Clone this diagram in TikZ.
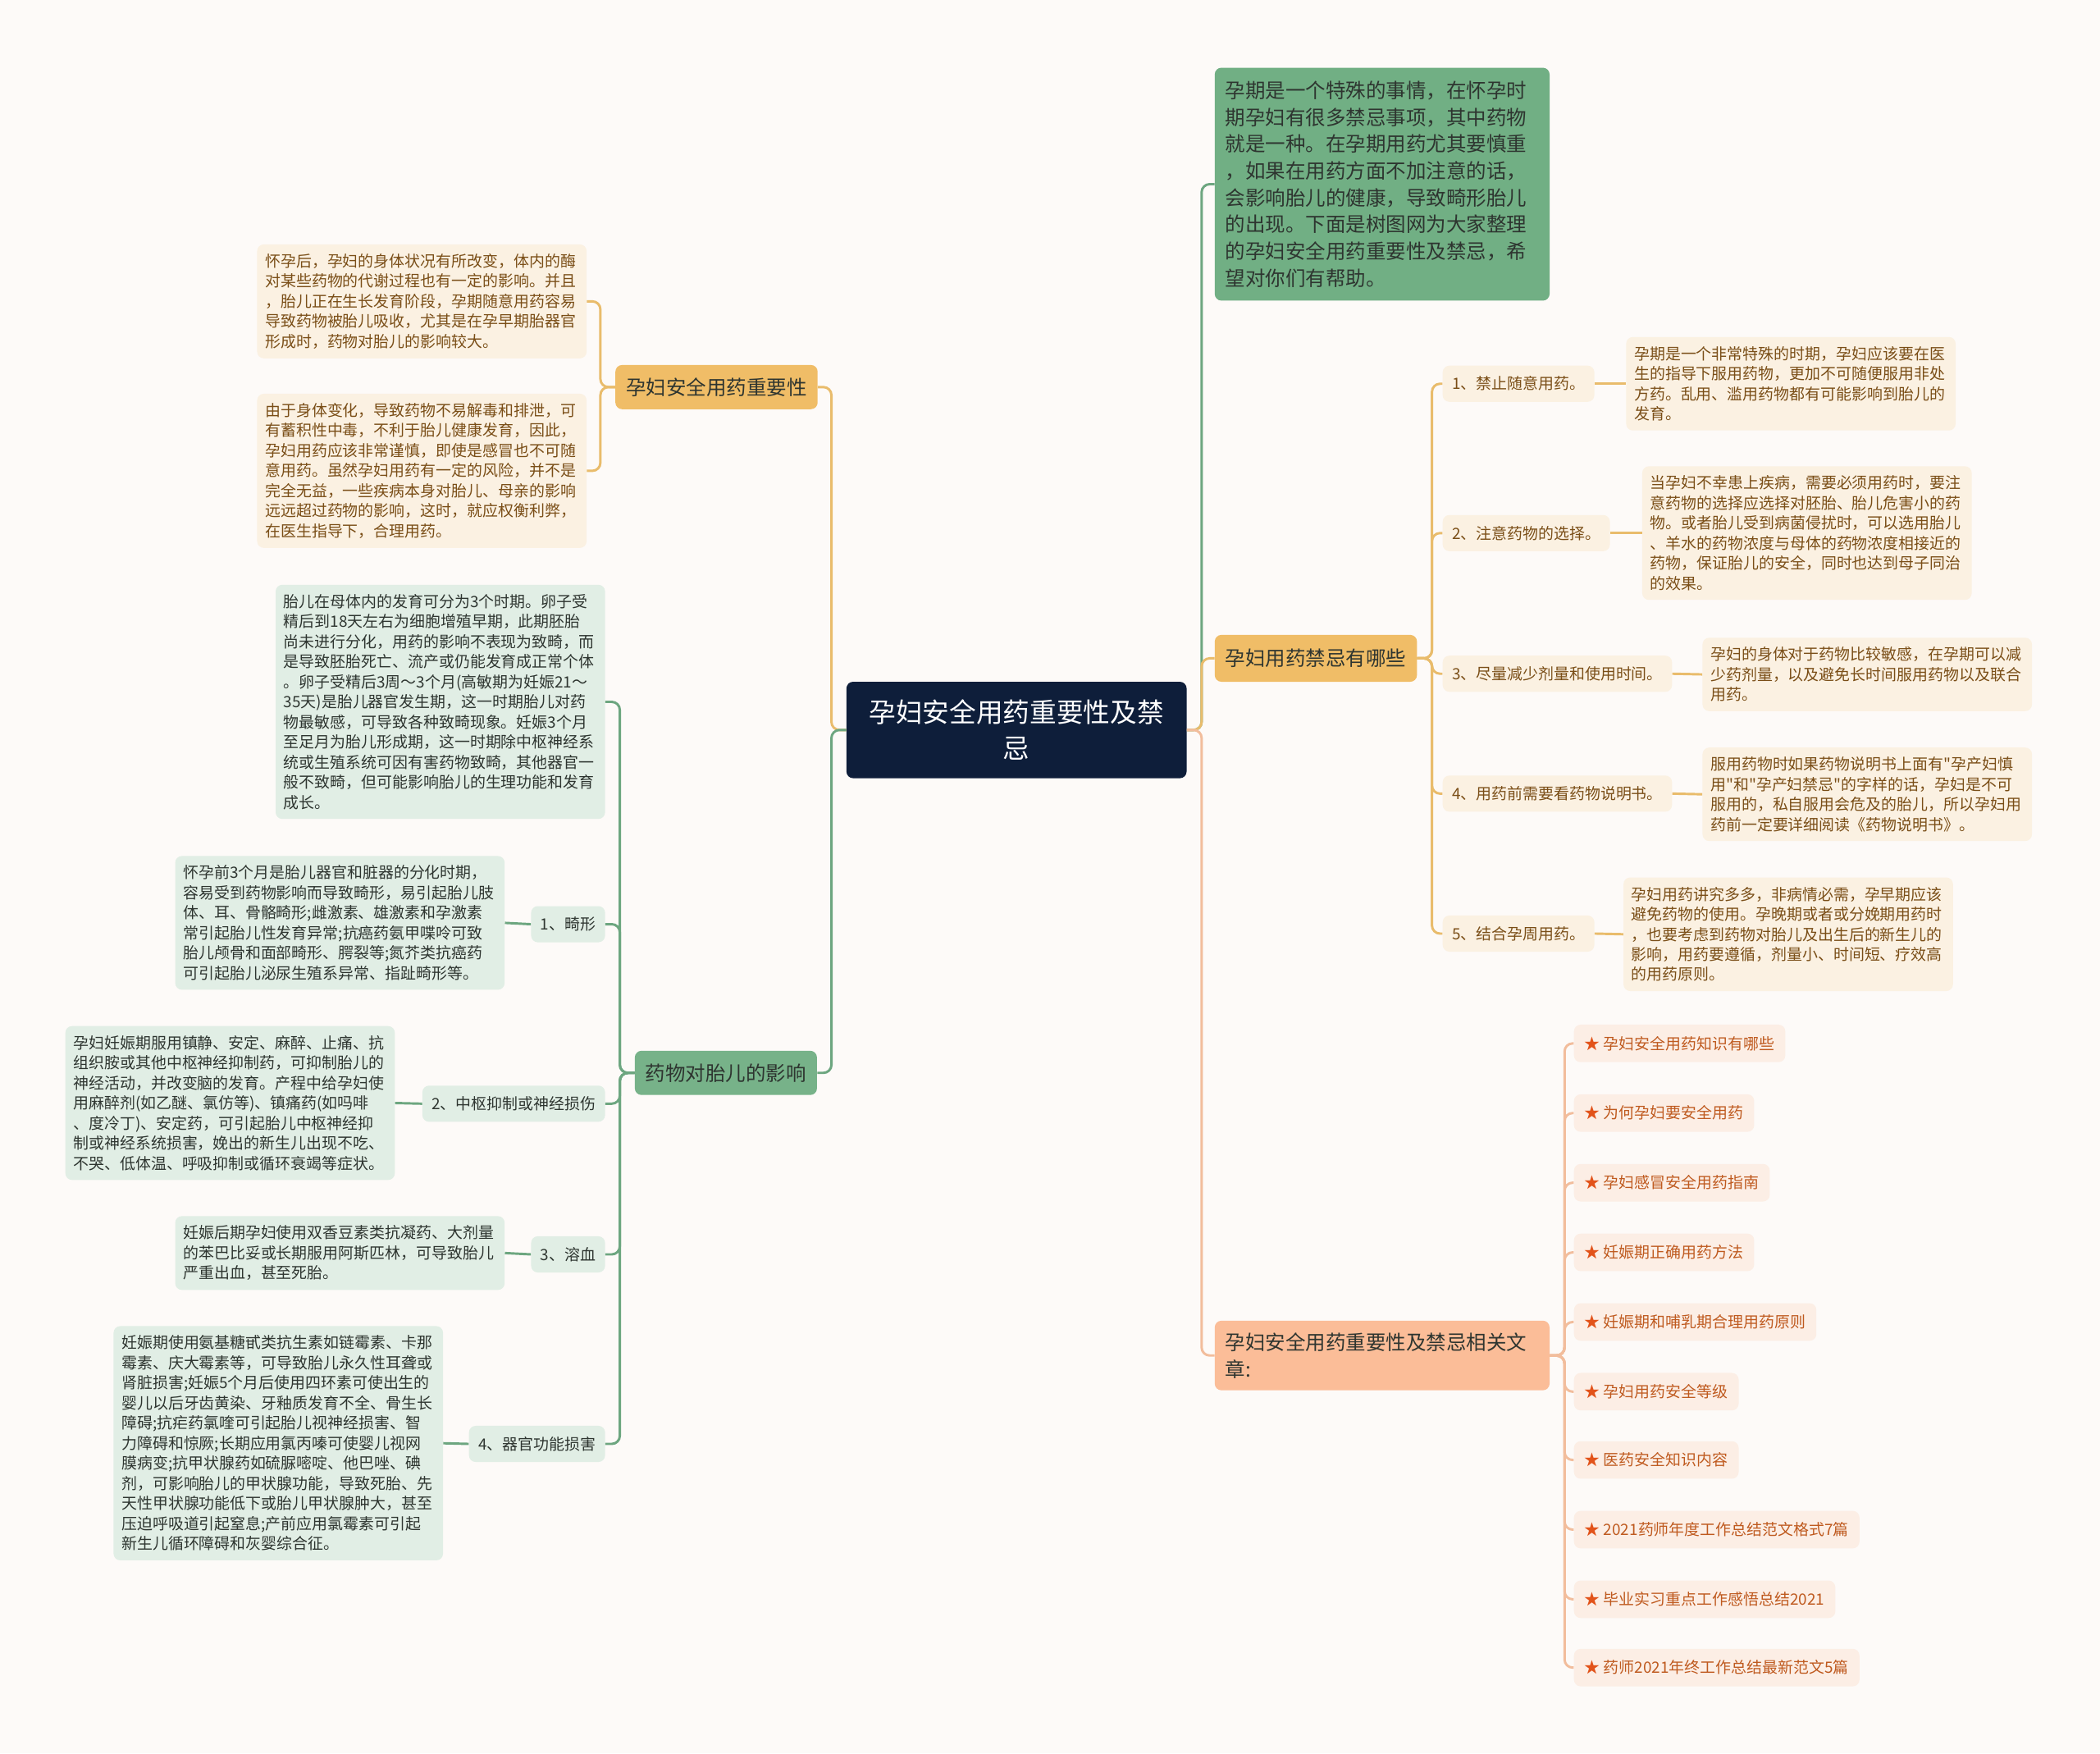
\documentclass[tikz,border=0pt]{standalone}
\usepackage{fontspec}
\setmainfont{Noto Sans CJK SC}[Ligatures=TeXOff]
\usepackage{xcolor}

\definecolor{bgcol}{HTML}{FDFAF8}
\definecolor{rootcol}{HTML}{0E1E3A}
\definecolor{orangecol}{HTML}{F0BD67}
\definecolor{orangeline}{HTML}{E9BC6C}
\definecolor{creamcol}{HTML}{FBF1E2}
\definecolor{browntext}{HTML}{7A4E17}
\definecolor{greencol}{HTML}{77B289}
\definecolor{introcol}{HTML}{71AF84}
\definecolor{greenline}{HTML}{6DA680}
\definecolor{mintcol}{HTML}{E1EEE5}
\definecolor{darktext}{HTML}{2E3530}
\definecolor{salmoncol}{HTML}{FBBD98}
\definecolor{salmonline}{HTML}{F2BD9C}
\definecolor{peachcol}{HTML}{FCEEE5}
\definecolor{linktext}{HTML}{BF5A1F}
\definecolor{starcol}{HTML}{E2531A}

\begin{document}
\begin{tikzpicture}[x=1pt, y=-1pt,
    rootbox/.style={fill=rootcol, text=white, rounded corners=5pt, font=\fontsize{20}{27}\selectfont,
        text width=222pt, align=center, inner xsep=16pt, inner ysep=12pt, minimum height=72pt},
    branchbox/.style={rounded corners=5pt, font=\fontsize{15}{20}\selectfont, inner xsep=8pt, minimum height=33pt},
    notebox/.style={rounded corners=5pt, font=\fontsize{11.6}{15}\selectfont, text width=234pt,
        align=left, inner xsep=6pt, inner ysep=7pt},
    subbox/.style={rounded corners=5pt, font=\fontsize{11.6}{15}\selectfont, inner xsep=7pt, minimum height=27pt},
    linkbox/.style={fill=peachcol, text=linktext, rounded corners=5pt, font=\fontsize{11.6}{15}\selectfont,
        inner xsep=8pt, minimum height=28pt, anchor=west},
    link/.style={line width=1.8pt, rounded corners=6pt}]

    % Page and background
    \useasboundingbox (0,0) rectangle (1568,1309);
    \fill[bgcol] (0,0) rectangle (1568,1309);

    % Central topic
    \node[rootbox] (root) at (759,545) {孕妇安全用药重要性及禁\\忌};

    % Left side: importance
    \node[branchbox, fill=orangecol, text=darktext] (imp) at (535,289) {孕妇安全用药重要性};
    \node[notebox, fill=creamcol, text=browntext] (impA) at (315,225) {怀孕后，孕妇的身体状况有所改变，体内的酶\\对某些药物的代谢过程也有一定的影响。并且\\，胎儿正在生长发育阶段，孕期随意用药容易\\导致药物被胎儿吸收，尤其是在孕早期胎器官\\形成时，药物对胎儿的影响较大。};
    \node[notebox, fill=creamcol, text=browntext] (impB) at (315,351.5) {由于身体变化，导致药物不易解毒和排泄，可\\有蓄积性中毒，不利于胎儿健康发育，因此，\\孕妇用药应该非常谨慎，即使是感冒也不可随\\意用药。虽然孕妇用药有一定的风险，并不是\\完全无益，一些疾病本身对胎儿、母亲的影响\\远远超过药物的影响，这时，就应权衡利弊，\\在医生指导下，合理用药。};

    % Left side: effects on the fetus
    \node[branchbox, fill=greencol, text=darktext] (eff) at (542,801) {药物对胎儿的影响};
    \node[notebox, fill=mintcol, text=darktext, anchor=east] (effdev) at (452,524) {胎儿在母体内的发育可分为3个时期。卵子受\\精后到18天左右为细胞增殖早期，此期胚胎\\尚未进行分化，用药的影响不表现为致畸，而\\是导致胚胎死亡、流产或仍能发育成正常个体\\。卵子受精后3周～3个月(高敏期为妊娠21～\\35天)是胎儿器官发生期，这一时期胎儿对药\\物最敏感，可导致各种致畸现象。妊娠3个月\\至足月为胎儿形成期，这一时期除中枢神经系\\统或生殖系统可因有害药物致畸，其他器官一\\般不致畸，但可能影响胎儿的生理功能和发育\\成长。};

    \node[subbox, fill=mintcol, text=darktext, anchor=east] (eff1) at (452,690) {1、畸形};
    \node[notebox, fill=mintcol, text=darktext, anchor=east] (eff1d) at (377,689) {怀孕前3个月是胎儿器官和脏器的分化时期，\\容易受到药物影响而导致畸形，易引起胎儿肢\\体、耳、骨骼畸形;雌激素、雄激素和孕激素\\常引起胎儿性发育异常;抗癌药氨甲喋呤可致\\胎儿颅骨和面部畸形、腭裂等;氮芥类抗癌药\\可引起胎儿泌尿生殖系异常、指趾畸形等。};

    \node[subbox, fill=mintcol, text=darktext, anchor=east] (eff2) at (452,824) {2、中枢抑制或神经损伤};
    \node[notebox, fill=mintcol, text=darktext, anchor=east] (eff2d) at (295,823.5) {孕妇妊娠期服用镇静、安定、麻醉、止痛、抗\\组织胺或其他中枢神经抑制药，可抑制胎儿的\\神经活动，并改变脑的发育。产程中给孕妇使\\用麻醉剂(如乙醚、氯仿等)、镇痛药(如吗啡\\、度冷丁)、安定药，可引起胎儿中枢神经抑\\制或神经系统损害，娩出的新生儿出现不吃、\\不哭、低体温、呼吸抑制或循环衰竭等症状。};

    \node[subbox, fill=mintcol, text=darktext, anchor=east] (eff3) at (452,936.5) {3、溶血};
    \node[notebox, fill=mintcol, text=darktext, anchor=east] (eff3d) at (377,935.5) {妊娠后期孕妇使用双香豆素类抗凝药、大剂量\\的苯巴比妥或长期服用阿斯匹林，可导致胎儿\\严重出血，甚至死胎。};

    \node[subbox, fill=mintcol, text=darktext, anchor=east] (eff4) at (452,1078) {4、器官功能损害};
    \node[notebox, fill=mintcol, text=darktext, anchor=east] (eff4d) at (331,1077.5) {妊娠期使用氨基糖甙类抗生素如链霉素、卡那\\霉素、庆大霉素等，可导致胎儿永久性耳聋或\\肾脏损害;妊娠5个月后使用四环素可使出生的\\婴儿以后牙齿黄染、牙釉质发育不全、骨生长\\障碍;抗疟药氯喹可引起胎儿视神经损害、智\\力障碍和惊厥;长期应用氯丙嗪可使婴儿视网\\膜病变;抗甲状腺药如硫脲嘧啶、他巴唑、碘\\剂，可影响胎儿的甲状腺功能，导致死胎、先\\天性甲状腺功能低下或胎儿甲状腺肿大，甚至\\压迫呼吸道引起窒息;产前应用氯霉素可引起\\新生儿循环障碍和灰婴综合征。};

    % Right side: introduction
    \node[branchbox, fill=introcol, text=darktext, text width=234pt, align=left, inner ysep=10pt] (intro) at (1032,137.5) {孕期是一个特殊的事情，在怀孕时\\期孕妇有很多禁忌事项，其中药物\\就是一种。在孕期用药尤其要慎重\\，如果在用药方面不加注意的话，\\会影响胎儿的健康，导致畸形胎儿\\的出现。下面是树图网为大家整理\\的孕妇安全用药重要性及禁忌，希\\望对你们有帮助。};

    % Right side: taboos
    \node[branchbox, fill=orangecol, text=darktext, minimum height=35pt] (ban) at (982.5,491.5) {孕妇用药禁忌有哪些};

    \node[subbox, fill=creamcol, text=browntext, anchor=west] (ban1) at (1077,286.5) {1、禁止随意用药。};
    \node[notebox, fill=creamcol, text=browntext, anchor=west] (ban1d) at (1214,286.5) {孕期是一个非常特殊的时期，孕妇应该要在医\\生的指导下服用药物，更加不可随便服用非处\\方药。乱用、滥用药物都有可能影响到胎儿的\\发育。};

    \node[subbox, fill=creamcol, text=browntext, anchor=west] (ban2) at (1077,398) {2、注意药物的选择。};
    \node[notebox, fill=creamcol, text=browntext, anchor=west] (ban2d) at (1226,398) {当孕妇不幸患上疾病，需要必须用药时，要注\\意药物的选择应选择对胚胎、胎儿危害小的药\\物。或者胎儿受到病菌侵扰时，可以选用胎儿\\、羊水的药物浓度与母体的药物浓度相接近的\\药物，保证胎儿的安全，同时也达到母子同治\\的效果。};

    \node[subbox, fill=creamcol, text=browntext, anchor=west] (ban3) at (1077,503) {3、尽量减少剂量和使用时间。};
    \node[notebox, fill=creamcol, text=browntext, anchor=west] (ban3d) at (1271,503.5) {孕妇的身体对于药物比较敏感，在孕期可以减\\少药剂量，以及避免长时间服用药物以及联合\\用药。};

    \node[subbox, fill=creamcol, text=browntext, anchor=west] (ban4) at (1077,592.5) {4、用药前需要看药物说明书。};
    \node[notebox, fill=creamcol, text=browntext, anchor=west] (ban4d) at (1271,593) {服用药物时如果药物说明书上面有"孕产妇慎\\用"和"孕产妇禁忌"的字样的话，孕妇是不可\\服用的，私自服用会危及的胎儿，所以孕妇用\\药前一定要详细阅读《药物说明书》。};

    \node[subbox, fill=creamcol, text=browntext, anchor=west] (ban5) at (1077,697) {5、结合孕周用药。};
    \node[notebox, fill=creamcol, text=browntext, anchor=west] (ban5d) at (1212,697.5) {孕妇用药讲究多多，非病情必需，孕早期应该\\避免药物的使用。孕晚期或者或分娩期用药时\\，也要考虑到药物对胎儿及出生后的新生儿的\\影响，用药要遵循，剂量小、时间短、疗效高\\的用药原则。};

    % Right side: related articles
    \node[branchbox, fill=salmoncol, text=darktext, text width=234pt, align=left, inner ysep=9pt] (rel) at (1032,1012) {孕妇安全用药重要性及禁忌相关文\\章:};

    \node[linkbox] (rel1) at (1175,779) {{\color{starcol}★} 孕妇安全用药知识有哪些};
    \node[linkbox] (rel2) at (1175,831) {{\color{starcol}★} 为何孕妇要安全用药};
    \node[linkbox] (rel3) at (1175,883) {{\color{starcol}★} 孕妇感冒安全用药指南};
    \node[linkbox] (rel4) at (1175,935) {{\color{starcol}★} 妊娠期正确用药方法};
    \node[linkbox] (rel5) at (1175,987) {{\color{starcol}★} 妊娠期和哺乳期合理用药原则};
    \node[linkbox] (rel6) at (1175,1039) {{\color{starcol}★} 孕妇用药安全等级};
    \node[linkbox] (rel7) at (1175,1090) {{\color{starcol}★} 医药安全知识内容};
    \node[linkbox] (rel8) at (1175,1142) {{\color{starcol}★} 2021药师年度工作总结范文格式7篇};
    \node[linkbox] (rel9) at (1175,1194) {{\color{starcol}★} 毕业实习重点工作感悟总结2021};
    \node[linkbox] (rel10) at (1175,1245) {{\color{starcol}★} 药师2021年终工作总结最新范文5篇};

    % Connectors from the centre
    \draw[link, orangeline] (root.west) -- ++(-11,0) |- (imp.east);
    \draw[link, greenline] (root.west) -- ++(-11,0) |- (eff.east);
    \draw[link, greenline] (root.east) -- ++(11,0) |- (intro.west);
    \draw[link, orangeline] (root.east) -- ++(11,0) |- (ban.west);
    \draw[link, salmonline] (root.east) -- ++(11,0) |- (rel.west);

    % Importance branch
    \draw[link, orangeline] (imp.west) -- ++(-11,0) |- (impA.east);
    \draw[link, orangeline] (imp.west) -- ++(-11,0) |- (impB.east);

    % Effects branch
    \draw[link, greenline] (eff.west) -- ++(-11,0) |- (effdev.east);
    \draw[link, greenline] (eff.west) -- ++(-11,0) |- (eff1.east);
    \draw[link, greenline] (eff.west) -- ++(-11,0) |- (eff2.east);
    \draw[link, greenline] (eff.west) -- ++(-11,0) |- (eff3.east);
    \draw[link, greenline] (eff.west) -- ++(-11,0) |- (eff4.east);
    \draw[link, greenline] (eff1.west) -- (eff1d.east);
    \draw[link, greenline] (eff2.west) -- (eff2d.east);
    \draw[link, greenline] (eff3.west) -- (eff3d.east);
    \draw[link, greenline] (eff4.west) -- (eff4d.east);

    % Taboo branch
    \draw[link, orangeline] (ban.east) -- ++(11,0) |- (ban1.west);
    \draw[link, orangeline] (ban.east) -- ++(11,0) |- (ban2.west);
    \draw[link, orangeline] (ban.east) -- ++(11,0) |- (ban3.west);
    \draw[link, orangeline] (ban.east) -- ++(11,0) |- (ban4.west);
    \draw[link, orangeline] (ban.east) -- ++(11,0) |- (ban5.west);
    \draw[link, orangeline] (ban1.east) -- (ban1d.west);
    \draw[link, orangeline] (ban2.east) -- (ban2d.west);
    \draw[link, orangeline] (ban3.east) -- (ban3d.west);
    \draw[link, orangeline] (ban4.east) -- (ban4d.west);
    \draw[link, orangeline] (ban5.east) -- (ban5d.west);

    % Related articles
    \draw[link, salmonline] (rel.east) -- ++(11,0) |- (rel1.west);
    \draw[link, salmonline] (rel.east) -- ++(11,0) |- (rel2.west);
    \draw[link, salmonline] (rel.east) -- ++(11,0) |- (rel3.west);
    \draw[link, salmonline] (rel.east) -- ++(11,0) |- (rel4.west);
    \draw[link, salmonline] (rel.east) -- ++(11,0) |- (rel5.west);
    \draw[link, salmonline] (rel.east) -- ++(11,0) |- (rel6.west);
    \draw[link, salmonline] (rel.east) -- ++(11,0) |- (rel7.west);
    \draw[link, salmonline] (rel.east) -- ++(11,0) |- (rel8.west);
    \draw[link, salmonline] (rel.east) -- ++(11,0) |- (rel9.west);
    \draw[link, salmonline] (rel.east) -- ++(11,0) |- (rel10.west);
\end{tikzpicture}
\end{document}
